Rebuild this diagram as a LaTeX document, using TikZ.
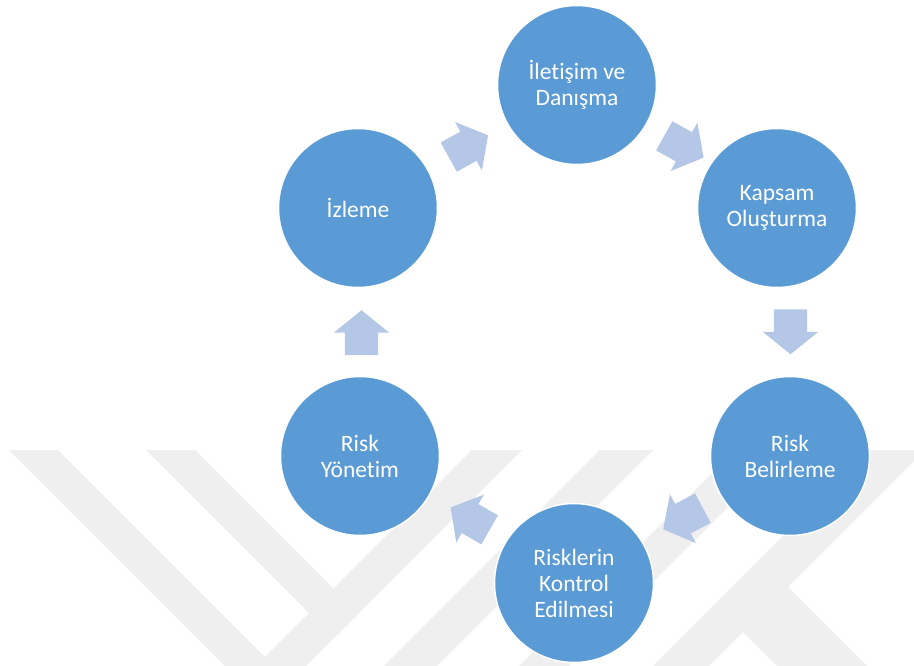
\documentclass[tikz,border=0pt]{standalone}
\usepackage{fontspec}
\setmainfont{Carlito}[Ligatures=NoCommon]
\usetikzlibrary{shapes.arrows,calc}

\definecolor{stepblue}{HTML}{5B9BD5}
\definecolor{arrowblue}{HTML}{B4C7E7}
\definecolor{markgray}{HTML}{EFEFEF}

\begin{document}
\begin{tikzpicture}[x=1pt,y=-1pt,
  stage/.style={circle, fill=stepblue, draw=white, line width=1.5pt,
    minimum size=159pt, inner sep=0pt, text=white, align=center,
    font=\fontsize{23.5}{26}\selectfont},
  flow/.style={single arrow, fill=arrowblue, minimum height=45pt,
    inner xsep=0pt, inner ysep=16.5pt, single arrow head extend=11pt,
    single arrow tip angle=102}]
\useasboundingbox (0,0) rectangle (914,666);

% Filigran (soluk gri bantlar)
\fill[markgray] (9,450) -- (58,450) -- (274,666) -- (225,666) -- cycle;
\fill[markgray] (146,450) -- (195,450) -- (358.5,613.5) -- (334,638) -- cycle;
\fill[markgray] (472,450) -- (522,450) -- (306,666) -- (256,666) -- cycle;
\fill[markgray] (600,450) -- (653,450) -- (437,666) -- (384,666) -- cycle;
\fill[markgray] (735,450) -- (785,450) -- (569,666) -- (519,666) -- cycle;
\fill[markgray] (869,450) -- (914,450) -- (914,461) -- (709,666) -- (653,666) -- cycle;
\fill[markgray] (741,630) -- (786,585) -- (867,666) -- (777,666) -- cycle;

% Aşamalar
\node[stage] (iletisim) at (577,85) {İletişim ve\\Danışma};
\node[stage] (kapsam) at (777,208) {Kapsam\\Oluşturma};
\node[stage] (belirleme) at (790,456) {Risk\\Belirleme};
\node[stage] (kontrol) at (574,583) {Risklerin\\Kontrol\\Edilmesi};
\node[stage] (yonetim) at (360,456) {Risk\\Yönetim};
\node[stage] (izleme) at (358,208) {İzleme};

% Oklar
\node[flow, rotate=29] (ok1) at ($(izleme)!0.5!(iletisim)+(-5,3)$) {};
\node[flow, rotate=-29] (ok2) at ($(iletisim)!0.5!(kapsam)+(1,-3)$) {};
\node[flow, rotate=-90] (ok3) at ($(kapsam)!0.5!(belirleme)+(7,-7)$) {};
\node[flow, rotate=208] (ok4) at ($(belirleme)!0.5!(kontrol)+(7,-4)$) {};
\node[flow, rotate=150] (ok5) at ($(kontrol)!0.5!(yonetim)+(9,2.5)$) {};
\node[flow, rotate=90] (ok6) at ($(yonetim)!0.5!(izleme)+(2.5,7.5)$) {};
\end{tikzpicture}
\end{document}
